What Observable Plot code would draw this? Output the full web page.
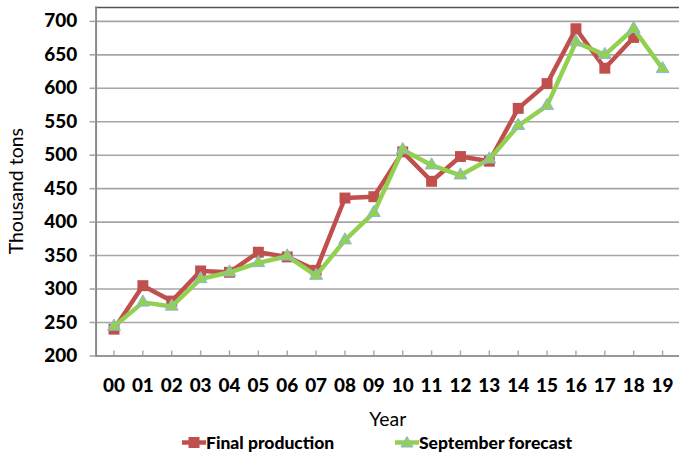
<!DOCTYPE html>
<html>
<head>
<meta charset="utf-8">
<script src="https://cdn.jsdelivr.net/npm/d3@7"></script>
<script src="https://cdn.jsdelivr.net/npm/@observablehq/plot@0.6"></script>
<style>
  html, body { margin: 0; padding: 0; overflow: hidden; background: #fff; width: 679px; height: 452px; }
  #chart { position: relative; width: 679px; height: 452px; }
  .legend { position: absolute; left: 0; top: 433px; width: 679px; height: 19px; font-family: Lato, "Open Sans", sans-serif; font-weight: 900; font-size: 17.5px; color: #000; }
  .legend .item { position: absolute; top: 0; display: flex; align-items: center; height: 19px; line-height: 19px; white-space: nowrap; }
</style>
</head>
<body>
<div id="chart"></div>
<script>
const years = ["00","01","02","03","04","05","06","07","08","09","10","11","12","13","14","15","16","17","18","19"];
const finalProduction = [240,305,282,327,325,355,348,328,436,438,505,461,498,491,570,607,689,630,676,null];
const septemberForecast = [244,280,274,315,325,339,349,320,373,414,508,485,470,494,544,574,669,650,689,629];
const yTicks = [200,250,300,350,400,450,500,550,600,650,700];
const seriesNames = ["Final production", "September forecast"];
const seriesColors = ["#C0504D", "#92D050"];
const triangleStroke = "#8EB4E3";
const yLabel = "Thousand tons";
const xLabel = "Year";

const fp = years.map((y, i) => ({year: y, value: finalProduction[i]})).filter(d => d.value != null);
const sf = years.map((y, i) => ({year: y, value: septemberForecast[i]})).filter(d => d.value != null);

const font = 'Lato, "Open Sans", sans-serif';

const plot = Plot.plot({
  width: 682,
  height: 433,
  marginLeft: 96,
  marginRight: 0,
  marginTop: 7,
  marginBottom: 76,
  style: {fontFamily: font, background: "transparent", overflow: "visible"},
  x: {type: "point", domain: years, padding: 0.5},
  y: {domain: [200, 720.8], ticks: yTicks},
  marks: [
    Plot.gridY(yTicks, {stroke: "#a6a6a6", strokeOpacity: 1, strokeWidth: 1.6}),
    Plot.frame({anchor: "top", stroke: "#555", strokeWidth: 1.6}),
    Plot.frame({anchor: "left", stroke: "#8a8a8a", strokeWidth: 2}),
    Plot.ruleY([200], {stroke: "#8a8a8a", strokeWidth: 1.6}),
    Plot.ruleX(years, {x: d => d, y1: 200, y2: 207.5, stroke: "#a6a6a6", strokeWidth: 1.4}),
    Plot.axisY({ticks: yTicks, tickSize: 6, tickPadding: 13, stroke: "#a6a6a6", strokeWidth: 1.6, label: null,
      fontSize: 19, fontWeight: 900, fill: "#000"}),
    Plot.axisX({tickSize: 0, tickPadding: 23, label: null, fontSize: 19, fontWeight: 900, fill: "#000"}),
    Plot.text([yLabel], {frameAnchor: "left", textAnchor: "middle", lineAnchor: "middle", dx: -79, dy: 9.5, rotate: -90, text: d => d, fontSize: 19, fill: "#000"}),
    Plot.text([xLabel], {frameAnchor: "bottom", textAnchor: "middle", lineAnchor: "middle", dy: 64, text: d => d, fontSize: 19.5, fill: "#000"}),
    Plot.line(fp, {x: "year", y: "value", stroke: seriesColors[0], strokeWidth: 4.5, curve: "linear"}),
    Plot.dot(fp, {x: "year", y: "value", symbol: "square", r: 6.2, fill: seriesColors[0], stroke: "none"}),
    Plot.line(sf, {x: "year", y: "value", stroke: seriesColors[1], strokeWidth: 4.5, curve: "linear"}),
    Plot.dot(sf, {x: "year", y: "value", symbol: "triangle", r: 4.8, fill: seriesColors[1], stroke: triangleStroke, strokeWidth: 1})
  ]
});
// the reference's axis title is drawn stretched along its length
d3.select(plot).selectAll("text").filter(function() { return this.textContent === yLabel; })
  .attr("textLength", 127).attr("lengthAdjust", "spacingAndGlyphs");

const chart = document.getElementById("chart");
chart.appendChild(plot);

// Legend
const legend = document.createElement("div");
legend.className = "legend";
const legendX = [182, 395];
seriesNames.forEach((name, i) => {
  const item = document.createElement("div");
  item.className = "item";
  item.style.left = legendX[i] + "px";
  const sym = i === 0
    ? `<rect x="6.5" y="4" width="11" height="11" fill="${seriesColors[0]}"/>`
    : `<path d="M12,3.5 L18,14 L6,14 Z" fill="${seriesColors[1]}" stroke="${triangleStroke}" stroke-width="1"/>`;
  item.innerHTML = `<svg width="24" height="19" style="display:block"><line x1="0" x2="24" y1="9.5" y2="9.5" stroke="${seriesColors[i]}" stroke-width="4.5"/>${sym}</svg><span>${name}</span>`;
  legend.appendChild(item);
});
chart.appendChild(legend);
</script>
</body>
</html>
